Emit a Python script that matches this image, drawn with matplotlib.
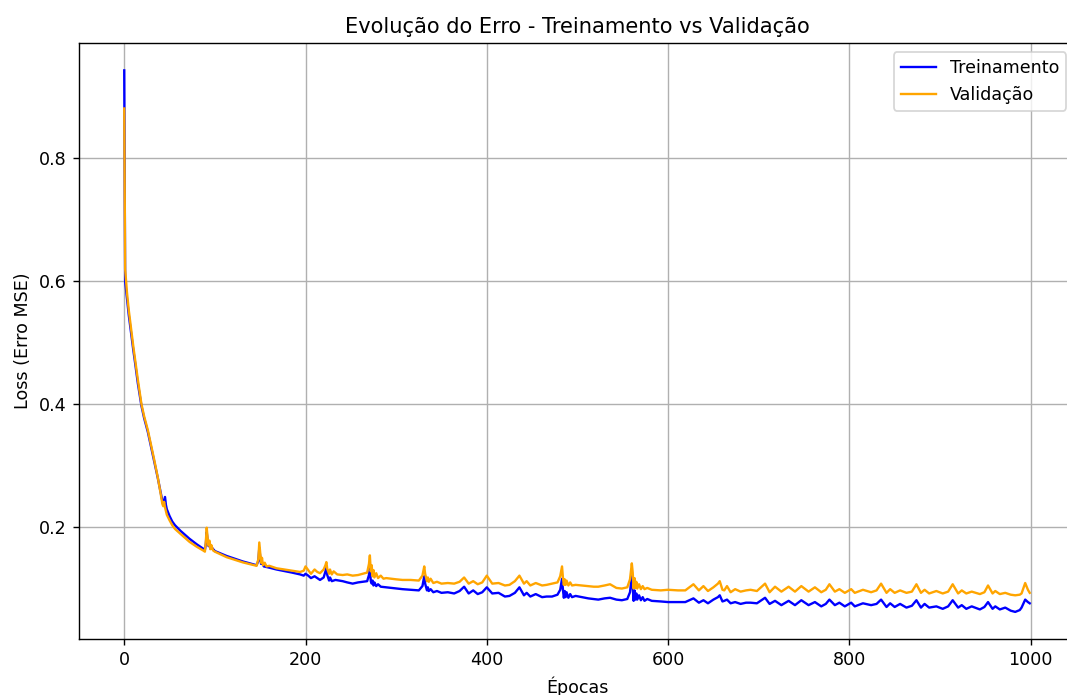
import numpy as np
import matplotlib
matplotlib.use("Agg")
import matplotlib.pyplot as plt

# ---------------------------------------- HISTORICO DE LOSS ----------------------------------------

# epocas / loss de treinamento
ep_treino = [0, 1, 3, 5, 7, 10, 12, 15, 19, 22, 26, 30, 33, 37, 40, 42, 43, 45, 46, 47, 50, 53, 56, 62, 72, 80, 87, 89,
             90, 91, 92, 93, 94, 95, 97, 100, 113, 131, 146, 148, 149, 150, 151, 152, 154, 160, 168, 185, 194, 198,
             200, 203, 206, 210, 213, 216, 220, 222, 223, 224, 226, 227, 229, 233, 241, 246, 252, 258, 263, 268,
             270, 271, 272, 273, 274, 275, 276, 278, 280, 283, 289, 300, 307, 316, 325, 329, 331, 332, 334, 335,
             336, 338, 341, 345, 350, 357, 364, 370, 375, 380, 385, 390, 395, 400, 406, 413, 420, 425, 431, 436,
             441, 444, 448, 454, 461, 466, 472, 478, 481, 483, 484, 485, 486, 487, 488, 490, 492, 494, 498, 505,
             512, 518, 523, 530, 536, 543, 549, 555, 558, 560, 561, 562, 563, 564, 565, 566, 568, 570, 572, 574,
             577, 582, 592, 600, 611, 619, 628, 634, 639, 644, 650, 655, 657, 660, 662, 665, 669, 674, 680, 686,
             691, 698, 707, 712, 718, 725, 733, 740, 747, 755, 762, 769, 774, 778, 784, 789, 795, 802, 806, 815,
             824, 830, 835, 841, 845, 850, 856, 863, 869, 874, 879, 883, 888, 896, 903, 909, 914, 920, 924, 929,
             935, 944, 949, 953, 958, 961, 966, 972, 978, 983, 988, 990, 994, 997, 999]
loss_treino = [0.943, 0.600, 0.572, 0.545, 0.522, 0.488, 0.467, 0.434, 0.397, 0.377, 0.355, 0.328, 0.308, 0.280,
               0.258, 0.243, 0.238, 0.249, 0.236, 0.229, 0.218, 0.209, 0.203, 0.194, 0.181, 0.172, 0.165, 0.163,
               0.172, 0.192, 0.178, 0.169, 0.173, 0.165, 0.166, 0.161, 0.153, 0.144, 0.138, 0.145, 0.166, 0.152,
               0.140, 0.143, 0.136, 0.134, 0.131, 0.126, 0.123, 0.121, 0.124, 0.121, 0.117, 0.120, 0.117, 0.114,
               0.118, 0.128, 0.135, 0.122, 0.113, 0.118, 0.112, 0.114, 0.112, 0.110, 0.108, 0.110, 0.111, 0.112,
               0.122, 0.136, 0.112, 0.108, 0.113, 0.105, 0.110, 0.104, 0.107, 0.103, 0.102, 0.100, 0.099, 0.098,
               0.097, 0.104, 0.120, 0.108, 0.097, 0.102, 0.096, 0.099, 0.094, 0.096, 0.093, 0.094, 0.092, 0.096,
               0.103, 0.092, 0.097, 0.091, 0.094, 0.102, 0.092, 0.093, 0.087, 0.088, 0.093, 0.102, 0.089, 0.093,
               0.087, 0.091, 0.086, 0.087, 0.087, 0.090, 0.098, 0.116, 0.098, 0.085, 0.096, 0.086, 0.094, 0.085,
               0.091, 0.086, 0.088, 0.086, 0.084, 0.083, 0.082, 0.084, 0.085, 0.082, 0.081, 0.083, 0.094, 0.121,
               0.103, 0.080, 0.097, 0.082, 0.092, 0.082, 0.089, 0.081, 0.086, 0.080, 0.083, 0.080, 0.079, 0.078,
               0.078, 0.078, 0.084, 0.077, 0.081, 0.076, 0.082, 0.086, 0.089, 0.079, 0.080, 0.082, 0.076, 0.078,
               0.075, 0.077, 0.077, 0.076, 0.085, 0.075, 0.080, 0.073, 0.080, 0.073, 0.081, 0.073, 0.078, 0.071,
               0.075, 0.082, 0.073, 0.077, 0.071, 0.077, 0.071, 0.076, 0.073, 0.075, 0.082, 0.070, 0.076, 0.070,
               0.075, 0.069, 0.072, 0.081, 0.069, 0.075, 0.069, 0.071, 0.067, 0.071, 0.081, 0.069, 0.073, 0.067,
               0.071, 0.066, 0.070, 0.078, 0.067, 0.071, 0.066, 0.069, 0.064, 0.062, 0.065, 0.069, 0.082, 0.078,
               0.076]

# epocas / loss de validacao
ep_val = [0, 1, 3, 5, 7, 10, 12, 15, 19, 22, 26, 30, 33, 37, 40, 42, 43, 44, 45, 46, 47, 50, 53, 56, 62, 72, 80, 87,
          89, 90, 91, 92, 93, 94, 95, 96, 98, 100, 113, 131, 146, 148, 149, 150, 151, 152, 153, 155, 157, 160, 168,
          185, 194, 198, 200, 203, 206, 210, 213, 216, 220, 222, 223, 224, 226, 227, 229, 231, 235, 241, 246, 252,
          258, 263, 268, 270, 271, 272, 273, 274, 275, 276, 278, 280, 283, 286, 289, 300, 307, 316, 325, 329, 331,
          332, 334, 335, 336, 338, 341, 345, 350, 357, 364, 370, 375, 380, 385, 390, 395, 400, 406, 413, 420, 425,
          431, 436, 441, 444, 448, 454, 461, 466, 472, 478, 481, 483, 484, 485, 486, 487, 488, 490, 492, 494, 498,
          505, 512, 518, 523, 530, 536, 543, 549, 555, 558, 560, 561, 562, 563, 564, 565, 566, 568, 570, 572, 574,
          577, 582, 592, 600, 611, 619, 628, 634, 639, 644, 650, 655, 657, 660, 662, 665, 669, 674, 680, 686, 691,
          698, 707, 712, 718, 725, 733, 740, 747, 755, 762, 769, 774, 778, 784, 789, 795, 802, 806, 815, 824, 830,
          835, 841, 845, 850, 856, 863, 869, 874, 879, 883, 888, 896, 903, 909, 914, 920, 924, 929, 935, 944, 949,
          953, 958, 961, 966, 972, 978, 983, 988, 990, 994, 997, 999]
loss_val = [0.881, 0.620, 0.582, 0.553, 0.529, 0.494, 0.472, 0.440, 0.400, 0.380, 0.358, 0.331, 0.310, 0.281, 0.256,
            0.238, 0.234, 0.241, 0.232, 0.226, 0.220, 0.211, 0.203, 0.197, 0.189, 0.176, 0.168, 0.162, 0.160, 0.176,
            0.199, 0.182, 0.170, 0.178, 0.164, 0.171, 0.162, 0.160, 0.151, 0.1425, 0.137, 0.148, 0.175, 0.158, 0.142,
            0.150, 0.138, 0.142, 0.136, 0.137, 0.133, 0.129, 0.127, 0.129, 0.136, 0.130, 0.124, 0.131, 0.127, 0.125,
            0.131, 0.138, 0.143, 0.132, 0.124, 0.131, 0.123, 0.128, 0.123, 0.122, 0.123, 0.121, 0.122, 0.124, 0.126,
            0.140, 0.154, 0.128, 0.138, 0.120, 0.130, 0.118, 0.125, 0.117, 0.121, 0.116, 0.117, 0.115, 0.114, 0.114,
            0.113, 0.121, 0.136, 0.124, 0.112, 0.118, 0.111, 0.116, 0.109, 0.111, 0.108, 0.109, 0.108, 0.111, 0.118,
            0.108, 0.112, 0.107, 0.110, 0.121, 0.108, 0.109, 0.105, 0.106, 0.112, 0.121, 0.108, 0.112, 0.105, 0.109,
            0.105, 0.106, 0.108, 0.110, 0.120, 0.136, 0.118, 0.106, 0.115, 0.106, 0.113, 0.105, 0.110, 0.105, 0.106,
            0.105, 0.104, 0.103, 0.103, 0.105, 0.107, 0.101, 0.100, 0.102, 0.115, 0.141, 0.126, 0.100, 0.117, 0.101,
            0.111, 0.100, 0.107, 0.099, 0.104, 0.099, 0.101, 0.098, 0.097, 0.098, 0.097, 0.097, 0.107, 0.097, 0.104,
            0.096, 0.102, 0.108, 0.112, 0.098, 0.097, 0.104, 0.094, 0.099, 0.095, 0.097, 0.098, 0.096, 0.108, 0.094,
            0.103, 0.095, 0.103, 0.095, 0.104, 0.095, 0.102, 0.094, 0.098, 0.107, 0.095, 0.099, 0.093, 0.099, 0.093,
            0.098, 0.094, 0.097, 0.108, 0.093, 0.099, 0.093, 0.097, 0.093, 0.095, 0.107, 0.093, 0.098, 0.092, 0.096,
            0.092, 0.095, 0.107, 0.092, 0.097, 0.092, 0.095, 0.091, 0.094, 0.105, 0.092, 0.096, 0.091, 0.093, 0.090,
            0.089, 0.090, 0.092, 0.109, 0.098, 0.093]

# ---------------------------------------- PLOT ----------------------------------------

DPI = 126
fig = plt.figure(figsize=(1067 / DPI, 695 / DPI), dpi=DPI)
ax = fig.add_axes([0.0740, 0.0806, 0.9335, 0.8571])

ax.plot(ep_treino, loss_treino, color='blue', lw=1.35, label='Treinamento')
ax.plot(ep_val, loss_val, color='orange', lw=1.35, label='Validação')

ax.set_title('Evolução do Erro - Treinamento vs Validação', fontsize=12)
ax.set_xlabel('Épocas')
ax.set_ylabel('Loss (Erro MSE)')
ax.legend(loc='upper right')
ax.grid(True)

fig.savefig('out.png', dpi=DPI)
